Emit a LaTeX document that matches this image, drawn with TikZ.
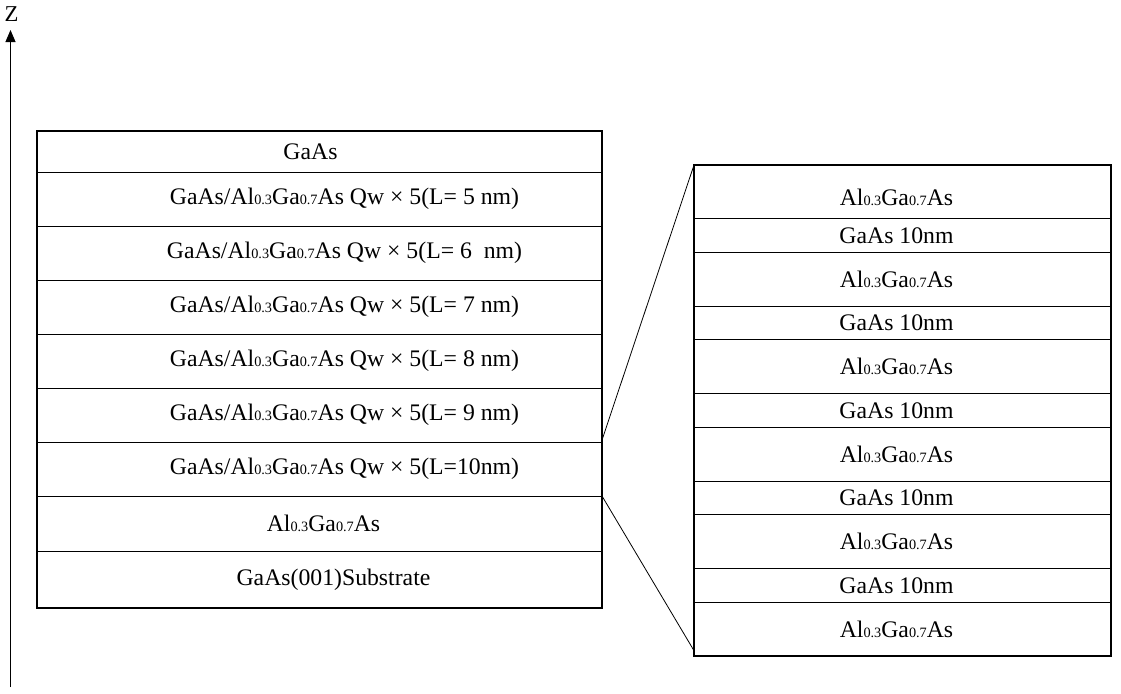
\documentclass[tikz,border=0pt]{standalone}
\usepackage{fontspec}
\setmainfont{Liberation Serif}
\usetikzlibrary{arrows.meta, positioning}
\newcommand{\sbs}[1]{{\fontsize{10.7}{12}\selectfont #1}}
\newcommand{\algaas}{Al\sbs{0.3}Ga\sbs{0.7}As}

\begin{document}
\begin{tikzpicture}[
  x=0.75pt, y=-0.75pt,
  node distance=0pt,
  lefty/.style={rectangle, draw, line width=0.75pt, inner sep=0pt, outer sep=0pt, minimum width=423.75pt, font=\fontsize{17.8}{20}\selectfont},
  qw/.style={lefty, minimum height=40.5pt, execute at begin node={\hspace*{37.5pt}}},
  righty/.style={rectangle, draw, line width=0.75pt, inner sep=0pt, outer sep=0pt, minimum width=312.75pt, font=\fontsize{17.8}{20}\selectfont, execute at end node={\hspace*{9pt}}},
  barrier/.style={righty, minimum height=40.25pt},
  well/.style={righty, minimum height=25.35pt},
  frame/.style={line width=1.5pt},
  zoomline/.style={line width=0.6pt},
  axis/.style={-{Triangle[length=9pt, width=7.5pt]}, line width=0.75pt}
]
  \useasboundingbox (0,0) rectangle (1121,693);

  % growth axis
  \coordinate (zbot) at (10.5,687);
  \coordinate (ztop) at (10.5,30);
  \draw[axis] (zbot) -- (ztop);
  \node[font=\fontsize{17}{18}\selectfont] (zlabel) at (11.5,14) {Z};

  % sample stack
  \node[lefty, minimum height=30.75pt, anchor=north west] (gaas) at (37,131) {GaAs\hspace*{13.5pt}};
  \node[qw, below=of gaas] (qwfive) {GaAs/\algaas{} Qw × 5(L= 5 nm)};
  \node[qw, below=of qwfive] (qwsix) {GaAs/\algaas{} Qw × 5(L= 6\ \ nm)};
  \node[qw, below=of qwsix] (qwseven) {GaAs/\algaas{} Qw × 5(L= 7 nm)};
  \node[qw, below=of qwseven] (qweight) {GaAs/\algaas{} Qw × 5(L= 8 nm)};
  \node[qw, below=of qweight] (qwnine) {GaAs/\algaas{} Qw × 5(L= 9 nm)};
  \node[qw, below=of qwnine] (qwten) {GaAs/\algaas{} Qw × 5(L=10nm)};
  \node[lefty, minimum height=41.25pt, below=of qwten] (buffer) {\hspace*{6pt}\algaas};
  \node[lefty, minimum height=42.75pt, below=of buffer] (subs) {\hspace*{21pt}GaAs(001)Substrate};
  \draw[frame] (gaas.north west) rectangle (subs.south east);

  % enlarged quantum well period
  \node[barrier, text height=21pt, anchor=north west] (ala) at (694,165) {\algaas};
  \node[well, below=of ala] (wella) {GaAs 10nm};
  \node[barrier, below=of wella] (alb) {\algaas};
  \node[well, below=of alb] (wellb) {GaAs 10nm};
  \node[barrier, below=of wellb] (alc) {\algaas};
  \node[well, below=of alc] (wellc) {GaAs 10nm};
  \node[barrier, below=of wellc] (ald) {\algaas};
  \node[well, below=of ald] (welld) {GaAs 10nm};
  \node[barrier, below=of welld] (ale) {\algaas};
  \node[well, below=of ale] (welle) {GaAs 10nm};
  \node[barrier, below=of welle] (alf) {\algaas};
  \draw[frame] (ala.north west) rectangle (alf.south east);

  \draw[zoomline] ([yshift=1.5pt]qwnine.south east) -- (ala.north west);
  \draw[zoomline] (qwten.south east) -- ([yshift=4pt]alf.south west);
\end{tikzpicture}
\end{document}
